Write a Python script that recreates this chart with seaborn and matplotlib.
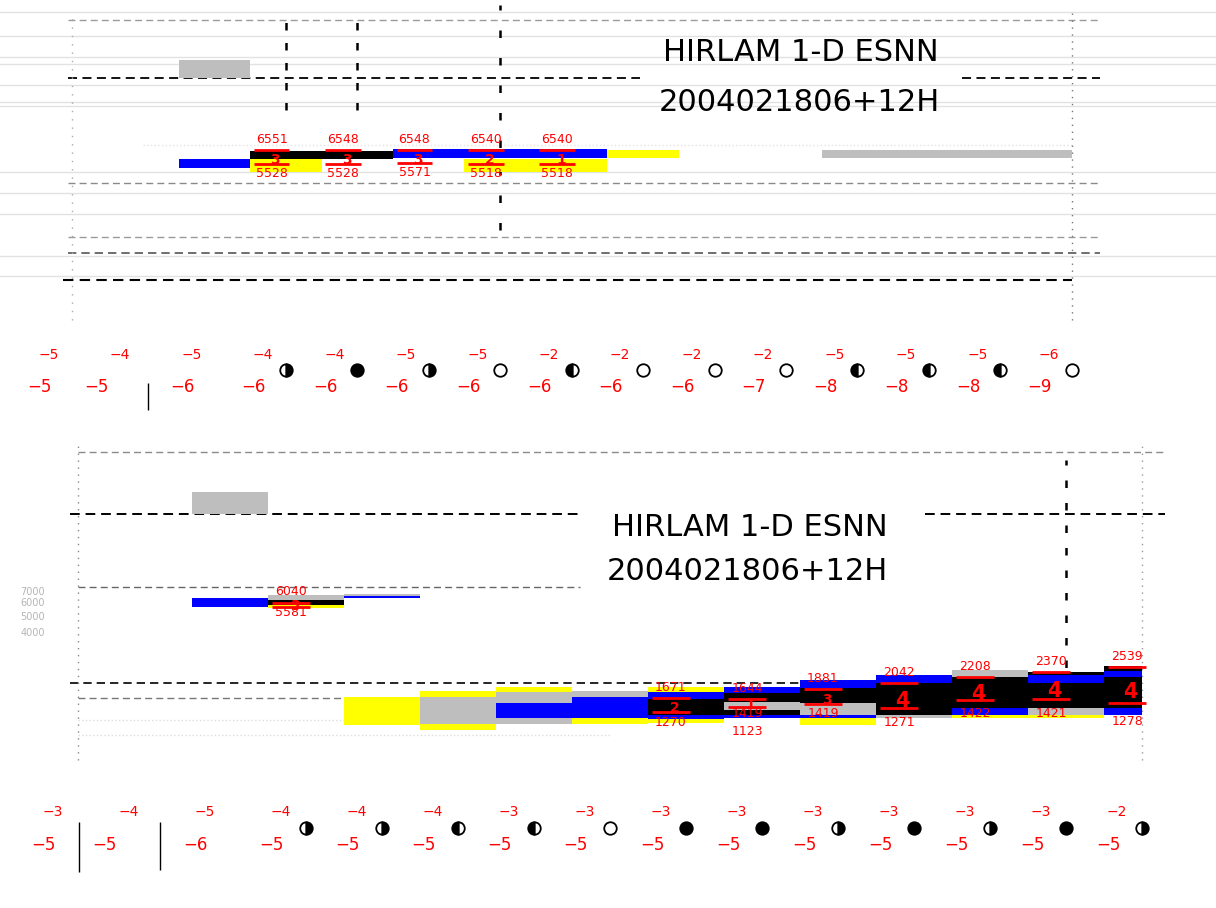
import matplotlib
matplotlib.use("Agg")
import matplotlib.pyplot as plt
import matplotlib.patches as mpatches
import seaborn as sns

# ---- data -----------------------------------------------------------------
title_main = "HIRLAM 1-D ESNN"
title_run = "2004021806+12H"

# cloud layers, upper panel: (step, base m, top m)
up_yellow = [(3, 5435, 6070), (6, 5435, 6070), (7, 5435, 6070), (8, 6119, 6551)]
up_gray = [(2, 12080, 14075), (11, 6119, 6551), (12, 6119, 6551),
           (13, 6119, 6551), (14, 6119, 6551)]
up_blue = [(2, 5622, 6070), (5, 6119, 6607), (6, 6119, 6607), (7, 6119, 6607)]
up_black = [(3, 6070, 6496), (4, 6070, 6496)]

up_lab_steps = [3, 4, 5, 6, 7]
up_lab_top = [6551, 6548, 6548, 6540, 6540]
up_lab_base = [5528, 5528, 5571, 5518, 5518]
up_lab_num = ["3", "3", "3", "2", "1"]

up_row_a = [-5, -4, -5, -4, -4, -5, -5, -2, -2, -2, -2, -5, -5, -5, -6]
up_row_b = [-5, -5, -6, -6, -6, -6, -6, -6, -6, -6, -7, -8, -8, -8, -9]
up_cover = [5, 8, 5, 1, 3, 1, 1, 1, 3, 3, 3, 1]

# cloud layers, lower panel
lo_yellow = [(3, 5622, 5853), (4, 1163, 1696), (5, 1087, 1179), (5, 1696, 1838),
             (6, 1813, 1940), (7, 1179, 1278), (8, 1813, 1940), (8, 1195, 1261),
             (10, 1163, 1278), (12, 1278, 1330), (13, 1278, 1330)]
lo_gray = [(2, 19940, 26800), (3, 6260, 6697), (4, 6607, 6788), (5, 1179, 1696),
           (6, 1564, 1813), (6, 1179, 1278), (7, 1696, 1838), (9, 1424, 1585),
           (10, 1330, 1564), (11, 1278, 1330), (12, 2220, 2440), (13, 1330, 1462)]
lo_blue = [(2, 5698, 6431), (4, 6431, 6607), (6, 1278, 1564), (7, 1278, 1696),
           (8, 1650, 1813), (8, 1261, 1330), (9, 1789, 1940), (9, 1278, 1330),
           (10, 1913, 2132), (10, 1278, 1330), (11, 2047, 2280), (12, 1330, 1462),
           (13, 2047, 2280), (14, 2220, 2407), (14, 1330, 1462)]
lo_black = [(3, 5853, 6260), (8, 1330, 1650), (9, 1585, 1789), (9, 1330, 1424),
            (10, 1564, 1913), (11, 1330, 2047), (12, 1462, 2220), (13, 2280, 2374),
            (13, 1462, 2047), (14, 2407, 2574), (14, 1462, 2220)]

lo_lab_steps = [3, 8, 9, 10, 11, 12, 13, 14]
lo_lab_top = [6040, 1671, 1644, 1881, 2042, 2208, 2370, 2539]
lo_lab_base = [5581, 1270, 1419, 1419, 1271, 1422, 1421, 1278]
lo_lab_num = ["3", "2", "1", "3", "4", "4", "4", "4"]
lo_extra_step, lo_extra_base = 9, 1123

lo_row_a = [-3, -4, -5, -4, -4, -4, -3, -3, -3, -3, -3, -3, -3, -3, -2]
lo_row_b = [-5, -5, -6, -5, -5, -5, -5, -5, -5, -5, -5, -5, -5, -5, -5]
lo_cover = [5, 6, 2, 2, 1, 7, 8, 5, 8, 5, 8, 5]

row_a_steps = list(range(-1, 14))
row_b_steps = [-1, -0.2] + list(range(1, 14))
cover_steps = list(range(3, 15))

COLORS = {"yellow": "#ffff00", "gray": "#bebebe", "blue": "#0000ff", "black": "#000000"}
RED = "#ff0000"
DASH = (0, (5, 3))


def minus(v):
    return str(v).replace("-", "\u2212")


def fill_for(okta):
    if okta >= 7:
        return "full"
    if okta >= 4:
        return "right"
    if okta >= 2:
        return "left"
    return "none"


def draw_layers(ax, layers):
    clip = mpatches.Rectangle((-0.05, 1), 14.05, 1e6, transform=ax.transData)
    for name, rows in layers:
        steps = [r[0] for r in rows]
        bases = [r[1] for r in rows]
        heights = [r[2] - r[1] for r in rows]
        bars = ax.bar(steps, heights, bottom=bases, width=1.0,
                      color=COLORS[name], linewidth=0, zorder=2)
        for p in bars:
            p.set_clip_path(clip)


def draw_labels(ax, steps, tops, bases, nums, numsize, labsize):
    for k, t, b, n in zip(steps, tops, bases, nums):
        ax.annotate(str(t), (k - 0.2, t), xytext=(0, 3), textcoords="offset points",
                    ha="center", va="bottom", color=RED, fontsize=labsize, zorder=6)
        ax.annotate(str(b), (k - 0.2, b), xytext=(0, 2), textcoords="offset points",
                    ha="center", va="top", color=RED, fontsize=labsize, zorder=6)
        mid = (t * b) ** 0.5
        low = b * (t / b) ** 0.3
        # thin layers get a smaller symbol
        size = numsize if t / b > 1.45 else 10
        ax.text(k - 0.15, mid, n, color=RED, fontsize=size, fontweight="bold",
                ha="center", va="center", zorder=6)
        ax.hlines([t, low], k - 0.45, k + 0.05, color=RED, lw=2, zorder=6)


def draw_rows(ax, row_a, row_b, cover, ya, yb, yc, off_a, off_b):
    tr = ax.get_xaxis_transform()
    for k, a in zip(row_a_steps, row_a):
        ax.text(k + off_a, ya, minus(a), transform=tr, color=RED, fontsize=10,
                ha="center", va="center")
    for k, b in zip(row_b_steps, row_b):
        ax.text(k + off_b, yb, minus(b), transform=tr, color=RED, fontsize=12,
                ha="center", va="center")
    for k, c in zip(cover_steps, cover):
        ax.plot(k, yc, marker="o", ms=9, color="black", fillstyle=fill_for(c),
                mew=1.3, transform=tr, clip_on=False, zorder=6)


sns.set_style("white")
plt.rcParams["font.family"] = ["DejaVu Sans"]
plt.rcParams["text.color"] = "black"

fig = plt.figure(figsize=(12.16, 9.08), dpi=100)
ax_up = fig.add_axes([0, 1 - 420 / 908, 1, 420 / 908])
ax_lo = fig.add_axes([0, 0, 1, 488 / 908])

# ---- upper panel ----------------------------------------------------------
ax = ax_up
ax.set_yscale("log")
ax.set_xlim(-1.002, 16.02)
ax.set_ylim(661, 23440)
ax.axis("off")

for y in [21160, 17260, 14440, 13600, 11380, 9850, 9520, 5435, 4547, 3804, 2662, 2246]:
    ax.axhline(y, color="#e2e2e2", lw=1, zorder=0.5)

ax.hlines(19775, -0.05, 14.4, color="#9a9a9a", lw=1, linestyles=DASH, zorder=1)
ax.hlines([12080, 12080], [-0.05, 12.46], [7.96, 14.4], color="black", lw=1.3,
          linestyles=DASH, zorder=1)
ax.hlines(4950, -0.05, 14.4, color="#8a8a8a", lw=1, linestyles=DASH, zorder=1)
ax.hlines(3128, -0.05, 14.4, color="#9a9a9a", lw=1, linestyles=DASH, zorder=1)
ax.hlines(2731, -0.05, 14.4, color="#555555", lw=1.2, linestyles=DASH, zorder=1)
ax.hlines(2171, -0.12, 14.0, color="black", lw=1.5, linestyles=DASH, zorder=1)
ax.hlines(6838, 1.0, 14.0, color="#e4e4e4", lw=1, linestyles=":", zorder=1)
ax.vlines([3, 4], 9203, 21160, color="black", lw=1.8, linestyles=(0, (3, 5)), zorder=1)
ax.vlines(6, 3320, 22460, color="black", lw=1.8, linestyles=(0, (3, 8)), zorder=1)
ax.vlines(14, 1546, 21160, color="#777777", lw=1, linestyles=(0, (1, 4)), zorder=1)
ax.vlines(0, 1546, 21160, color="#aaaaaa", lw=1, linestyles=(0, (1, 5)), zorder=1)

draw_layers(ax, [("yellow", up_yellow), ("gray", up_gray), ("blue", up_blue), ("black", up_black)])
draw_labels(ax, up_lab_steps, up_lab_top, up_lab_base, up_lab_num, 11, 9)

tr = ax.get_xaxis_transform()
ax.text(10.21, 0.876, title_main, transform=tr, fontsize=22, ha="center", va="center", zorder=3)
ax.text(10.19, 0.757, title_run, transform=tr, fontsize=22, ha="center", va="center", zorder=3)
draw_rows(ax, up_row_a, up_row_b, up_cover, 0.155, 0.0786, 0.119, 0.68, 0.55)
ax.vlines(1.07, 0.024, 0.088, transform=tr, color="black", lw=1)

# ---- lower panel ----------------------------------------------------------
ax = ax_lo
ax.set_yscale("log")
ax.set_xlim(-1.026, 14.97)
ax.set_ylim(98.9, 70680)
ax.axis("off")

ax.hlines(45930, 0, 14.3, color="#8a8a8a", lw=1, linestyles=DASH, zorder=1)
ax.hlines([19940, 19940], [-0.1, 11.14], [6.6, 14.3], color="black", lw=1.4,
          linestyles=DASH, zorder=1)
ax.hlines(7456, 0, 6.6, color="#666666", lw=1, linestyles=DASH, zorder=1)
ax.hlines(2047, -0.1, 14.0, color="black", lw=1.2, linestyles=DASH, zorder=1)
ax.hlines(1673, 0, 5.7, color="#777777", lw=1, linestyles=DASH, zorder=1)
ax.hlines([1244, 1017], 0, 7.0, color="#dddddd", lw=1, linestyles=":", zorder=1)
ax.vlines(13, 1863, 41240, color="black", lw=1.8, linestyles=(0, (3, 6)), zorder=1)
ax.vlines(0, 726, 50480, color="#888888", lw=1, linestyles=(0, (1, 4)), zorder=1)
ax.vlines(14, 726, 50480, color="#999999", lw=1, linestyles=(0, (1, 4)), zorder=1)

for v in [7000, 6000, 5000, 4000]:
    ax.text(-0.6, v, str(v), color="#b5b5b5", fontsize=7, ha="center", va="center")

draw_layers(ax, [("yellow", lo_yellow), ("gray", lo_gray), ("blue", lo_blue), ("black", lo_black)])
draw_labels(ax, lo_lab_steps, lo_lab_top, lo_lab_base, lo_lab_num, 15, 9)
ax.annotate(str(lo_extra_base), (lo_extra_step - 0.2, lo_extra_base), xytext=(0, 2),
            textcoords="offset points", ha="center", va="top", color=RED, fontsize=9, zorder=6)

tr = ax.get_xaxis_transform()
ax.text(8.84, 0.779, title_main, transform=tr, fontsize=22, ha="center", va="center", zorder=3)
ax.text(8.81, 0.689, title_run, transform=tr, fontsize=22, ha="center", va="center", zorder=3)
draw_rows(ax, lo_row_a, lo_row_b, lo_cover, 0.197, 0.129, 0.164, 0.67, 0.55)
ax.vlines([0.01, 1.08], [0.074, 0.078], [0.176, 0.176], transform=tr, color="black", lw=1)

fig.savefig("out.png", dpi=100, facecolor="white")
